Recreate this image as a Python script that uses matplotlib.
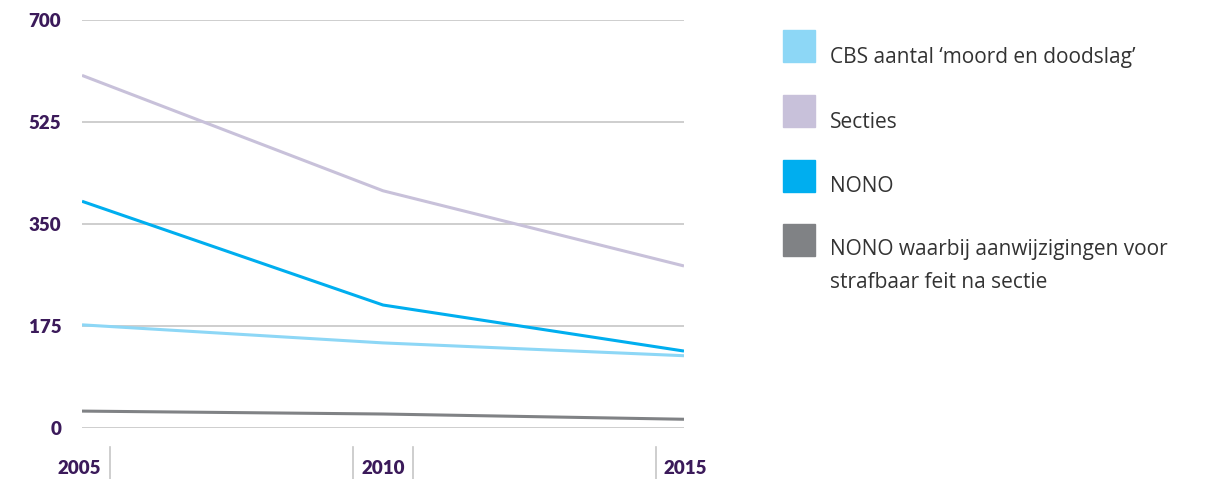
import matplotlib
matplotlib.use("Agg")
import matplotlib.pyplot as plt
from matplotlib.patches import Rectangle

years = [2005, 2010, 2015]
cbs = [177, 146, 124]
secties = [605, 407, 278]
nono = [389, 211, 132]
nono_feit = [29, 24, 15]

labels = ["CBS aantal \u2018moord en doodslag\u2019", "Secties", "NONO",
          "NONO waarbij aanwijzigingen voor\nstrafbaar feit na sectie"]
colors = ["#8dd7f6", "#c8c1da", "#00aeef", "#808285"]
yticks = [0, 175, 350, 525, 700]

purple = "#3b1a5a"

fig = plt.figure(figsize=(12.05, 4.79), dpi=100)
ax = fig.add_axes([82 / 1205, 1 - 428 / 479, (684 - 82) / 1205, 408 / 479])

for t in yticks:
    ax.axhline(t, color="#c6c6c6", lw=1.2, zorder=1)

series = [cbs, secties, nono, nono_feit]
for s, c in zip(series, colors):
    ax.plot(years, s, color=c, lw=2.2, zorder=3, solid_capstyle="butt")

ax.set_xlim(2005, 2015)
ax.set_ylim(0, 700)
ax.set_yticks(yticks)
ax.set_yticklabels([str(t) for t in yticks], fontfamily="Lato", fontweight="heavy",
                   fontsize=13.5, color=purple)
ax.tick_params(axis="y", length=0, pad=15)
ax.set_xticks([])
for sp in ax.spines.values():
    sp.set_visible(False)

# year labels with separators
def fx(px):
    return px / 1205

def fy(py):
    return 1 - py / 479

yr_kw = dict(va="center", fontfamily="Lato", fontweight="heavy", fontsize=13.5, color=purple)
fig.text(fx(101), fy(468), "2005", ha="right", **yr_kw)
fig.text(fx(383), fy(468), "2010", ha="center", **yr_kw)
fig.text(fx(664), fy(468), "2015", ha="left", **yr_kw)
for px in [110, 353, 413, 656]:
    fig.add_artist(plt.Line2D([fx(px), fx(px)], [fy(447), fy(479)],
                              color="#c6c6c6", lw=1.2))

# legend
patch_top = [30, 95, 160, 224]
for top, lab, c in zip(patch_top, labels, colors):
    fig.add_artist(Rectangle((fx(783), fy(top + 32)), 32 / 1205, 32 / 479,
                             color=c, transform=fig.transFigure))
    if "\n" in lab:
        fig.text(fx(830), fy(top + 15), lab, ha="left", va="top",
                 fontfamily="Open Sans", fontsize=15, color="#333333", linespacing=1.72)
    else:
        fig.text(fx(830), fy(top + 27), lab, ha="left", va="center",
                 fontfamily="Open Sans", fontsize=15, color="#333333")

fig.savefig("out.png", dpi=100)
